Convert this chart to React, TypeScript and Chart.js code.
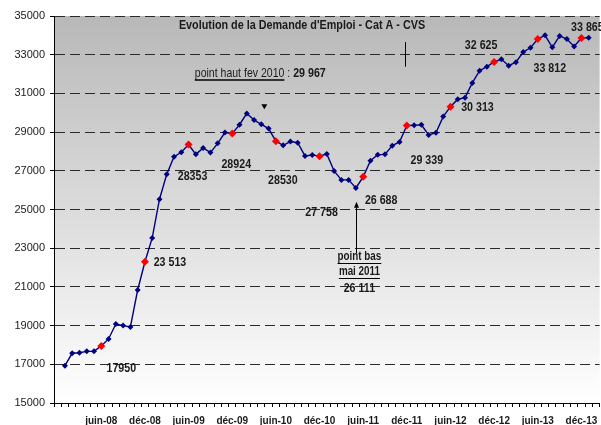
import React, { useEffect, useRef } from "react";
import { Chart, registerables } from "chart.js";

Chart.register(...registerables);

const MONTHS = ["janv", "févr", "mars", "avr", "mai", "juin", "juil", "août", "sept", "oct", "nov", "déc"];
const YEARS = ["08", "09", "10", "11", "12", "13", "14"];

// Categories: déc-07 (empty) then monthly up to févr-14
const CATEGORIES: string[] = ["déc-07"];
for (const y of YEARS) {
  for (const m of MONTHS) {
    if (y === "14" && m !== "janv" && m !== "févr") continue;
    CATEGORIES.push(`${m}-${y}`);
  }
}

const Y_2008 = [16930, 17570, 17600, 17670, 17670, 17950, 18310, 19080, 19000, 18930, 20840, 22300];
const Y_2009 = [23530, 25530, 26820, 27730, 27960, 28353, 27850, 28180, 27940, 28420, 28980, 28924];
const Y_2010 = [29380, 29967, 29625, 29400, 29180, 28530, 28320, 28510, 28450, 27770, 27820, 27758];
const Y_2011 = [27870, 26990, 26530, 26530, 26111, 26688, 27520, 27830, 27850, 28300, 28490, 29339];
const Y_2012 = [29350, 29380, 28850, 28970, 29800, 30313, 30700, 30780, 31540, 32170, 32380, 32625];
const Y_2013 = [32760, 32430, 32610, 33140, 33360, 33812, 34000, 33380, 33970, 33810, 33430, 33865];
const Y_2014 = [33880, null];

const DEMANDE: (number | null)[] = [null, ...Y_2008, ...Y_2009, ...Y_2010, ...Y_2011, ...Y_2012, ...Y_2013, ...Y_2014];

const Y_MIN = 15000;
const Y_MAX = 35000;
const Y_STEP = 2000;

const TITLE = "Evolution de la Demande d'Emploi - Cat A - CVS";

type Note = { text: string; cat: string; value: number; dx: number; underline?: boolean };

const VALUE_NOTES: Note[] = [
  { text: "17950", cat: "juin-08", value: 16790, dx: 20 },
  { text: "23 513", cat: "déc-08", value: 22270, dx: 25 },
  { text: "28353", cat: "juin-09", value: 26716, dx: 4 },
  { text: "28924", cat: "déc-09", value: 27351, dx: 4 },
  { text: "28530", cat: "juin-10", value: 26509, dx: 7 },
  { text: "27 758", cat: "déc-10", value: 24834, dx: 2 },
  { text: "26 688", cat: "juin-11", value: 25455, dx: 18 },
  { text: "29 339", cat: "déc-11", value: 27522, dx: 20 },
  { text: "30 313", cat: "juin-12", value: 30297, dx: 27 },
  { text: "32 625", cat: "déc-12", value: 33501, dx: -13 },
  { text: "33 812", cat: "juin-13", value: 32297, dx: 12 },
  { text: "33 865", cat: "déc-13", value: 34395, dx: 6 },
  { text: "point bas", cat: "mai-11", value: 22561, dx: 3.5, underline: true },
  { text: "mai 2011", cat: "mai-11", value: 21785, dx: 3.5, underline: true },
  { text: "26 111", cat: "mai-11", value: 20928, dx: 3.5 },
];

const SANS = "'Liberation Sans', Arial, sans-serif";

const isMark = (i: number) => i > 0 && (CATEGORIES[i].startsWith("juin") || CATEGORIES[i].startsWith("déc"));

// draw horizontally condensed text; returns drawn width
function condText(ctx: CanvasRenderingContext2D, text: string, x: number, y: number, font: string, sx: number, align: CanvasTextAlign) {
  ctx.save();
  ctx.font = font;
  ctx.textAlign = align;
  ctx.textBaseline = "middle";
  ctx.translate(x, y);
  ctx.scale(sx, 1);
  ctx.fillText(text, 0, 0);
  const w = ctx.measureText(text).width * sx;
  ctx.restore();
  return w;
}

export default function App() {
  const ref = useRef<HTMLCanvasElement | null>(null);

  useEffect(() => {
    if (!ref.current) return;

    const bgPlugin = {
      id: "bg",
      beforeDraw(chart: any) {
        const { ctx, chartArea: a } = chart;
        const g = ctx.createLinearGradient(0, a.top, 0, a.bottom);
        g.addColorStop(0, "#b8b8b8");
        g.addColorStop(1, "#ffffff");
        ctx.save();
        ctx.fillStyle = g;
        ctx.fillRect(a.left, a.top, a.right - a.left, a.bottom - a.top);
        ctx.restore();
      },
    };

    const notesPlugin = {
      id: "notes",
      afterDraw(chart: any) {
        const { ctx, chartArea: a } = chart;
        const xs = chart.scales.x;
        const ys = chart.scales.y;
        const px = (cat: string) => xs.getPixelForValue(CATEGORIES.indexOf(cat));
        ctx.save();
        ctx.fillStyle = "#1a1a1a";
        ctx.strokeStyle = "#000";

        // title
        condText(ctx, TITLE, 302, a.top + 10, `bold 12px ${SANS}`, 0.9, "center");

        // value labels
        for (const n of VALUE_NOTES) {
          const x = px(n.cat) + n.dx;
          const y = ys.getPixelForValue(n.value);
          const font = n.underline ? `bold 12px ${SANS}` : `bold 13px ${SANS}`;
          const w = condText(ctx, n.text, x, y, font, 0.82, "center");
          if (n.underline) {
            ctx.lineWidth = 1;
            ctx.beginPath();
            ctx.moveTo(x - w / 2, Math.round(y + 6) + 0.5);
            ctx.lineTo(x + w / 2, Math.round(y + 6) + 0.5);
            ctx.stroke();
          }
        }

        // point haut
        {
          const x0 = px("févr-10") - 52;
          const y = ys.getPixelForValue(32054);
          const t1 = "point haut fev 2010";
          const w1 = condText(ctx, t1, x0, y, `13px ${SANS}`, 0.81, "left");
          ctx.lineWidth = 1.5;
          ctx.beginPath();
          ctx.moveTo(x0, Math.round(y + 7));
          ctx.lineTo(x0 + w1, Math.round(y + 7));
          ctx.stroke();
          const w2 = condText(ctx, " : ", x0 + w1, y, `13px ${SANS}`, 0.81, "left");
          condText(ctx, "29 967", x0 + w1 + w2, y, `bold 13px ${SANS}`, 0.82, "left");
        }

        // small down triangle
        {
          const x = px("avr-10") + 3;
          const y = ys.getPixelForValue(30313);
          ctx.fillStyle = "#000";
          ctx.beginPath();
          ctx.moveTo(x - 3, y - 2.5);
          ctx.lineTo(x + 3, y - 2.5);
          ctx.lineTo(x, y + 2.5);
          ctx.closePath();
          ctx.fill();
        }

        // up arrow to point bas
        {
          const x = Math.round(px("mai-11")) + 0.5;
          const yb = ys.getPixelForValue(22750);
          const yt = ys.getPixelForValue(25350);
          ctx.lineWidth = 1;
          ctx.beginPath();
          ctx.moveTo(x, yb);
          ctx.lineTo(x, yt + 4);
          ctx.stroke();
          ctx.fillStyle = "#000";
          ctx.beginPath();
          ctx.moveTo(x, yt - 1);
          ctx.lineTo(x - 2.5, yt + 5);
          ctx.lineTo(x + 2.5, yt + 5);
          ctx.closePath();
          ctx.fill();
        }

        // vertical mark
        {
          const x = Math.round(px("déc-11") - 2) + 0.5;
          ctx.lineWidth = 1;
          ctx.beginPath();
          ctx.moveTo(x, ys.getPixelForValue(33656));
          ctx.lineTo(x, ys.getPixelForValue(32380));
          ctx.stroke();
        }
        ctx.restore();
      },
    };

    const chart = new Chart(ref.current, {
      type: "line",
      data: {
        labels: CATEGORIES,
        datasets: [
          {
            label: "Demande d'emploi Cat A CVS",
            data: DEMANDE,
            borderColor: "#000080",
            borderWidth: 1.4,
            pointStyle: "rectRot",
            pointRadius: (c: any) => (isMark(c.dataIndex) ? 4 : 3),
            pointBackgroundColor: (c: any) => (isMark(c.dataIndex) ? "#ff0000" : "#000080"),
            pointBorderColor: (c: any) => (isMark(c.dataIndex) ? "#ff0000" : "#000080"),
            pointBorderWidth: 0,
            tension: 0,
            spanGaps: false,
          },
        ],
      },
      options: {
        responsive: false,
        animation: false,
        layout: { padding: { top: 16, left: 0, right: 0, bottom: 0 } },
        plugins: { legend: { display: false }, tooltip: { enabled: false }, title: { display: false } },
        scales: {
          x: {
            type: "category",
            offset: true,
            afterFit: (s: any) => {
              s.height = 22;
            },
            grid: { offset: true, drawOnChartArea: false, color: "#000", tickLength: 4 },
            border: { display: true, color: "#000", width: 1 },
            ticks: {
              autoSkip: false,
              maxRotation: 0,
              minRotation: 0,
              padding: 8,
              color: "#1a1a1a",
              font: { family: SANS, size: 10, weight: "bold" },
              callback: (v: any, i: number) => (isMark(i) ? CATEGORIES[i] : ""),
            },
          },
          y: {
            min: Y_MIN,
            max: Y_MAX,
            afterFit: (s: any) => {
              s.width = 54;
            },
            grid: { color: "#2a2a2a", lineWidth: 1, tickLength: 4, tickColor: "#000" },
            border: { display: true, color: "#000", width: 1, dash: [10, 5] },
            ticks: {
              stepSize: Y_STEP,
              padding: 5,
              color: "#1a1a1a",
              font: { family: SANS, size: 11 },
              callback: (v: any) => String(v),
            },
          },
        },
      },
      plugins: [bgPlugin, notesPlugin],
    });
    return () => chart.destroy();
  }, []);

  return (
    <div style={{ position: "fixed", left: 0, top: 0, width: 601, height: 425, overflow: "hidden", background: "#fff" }}>
      <canvas ref={ref} width={604} height={425} style={{ display: "block" }} />
    </div>
  );
}
